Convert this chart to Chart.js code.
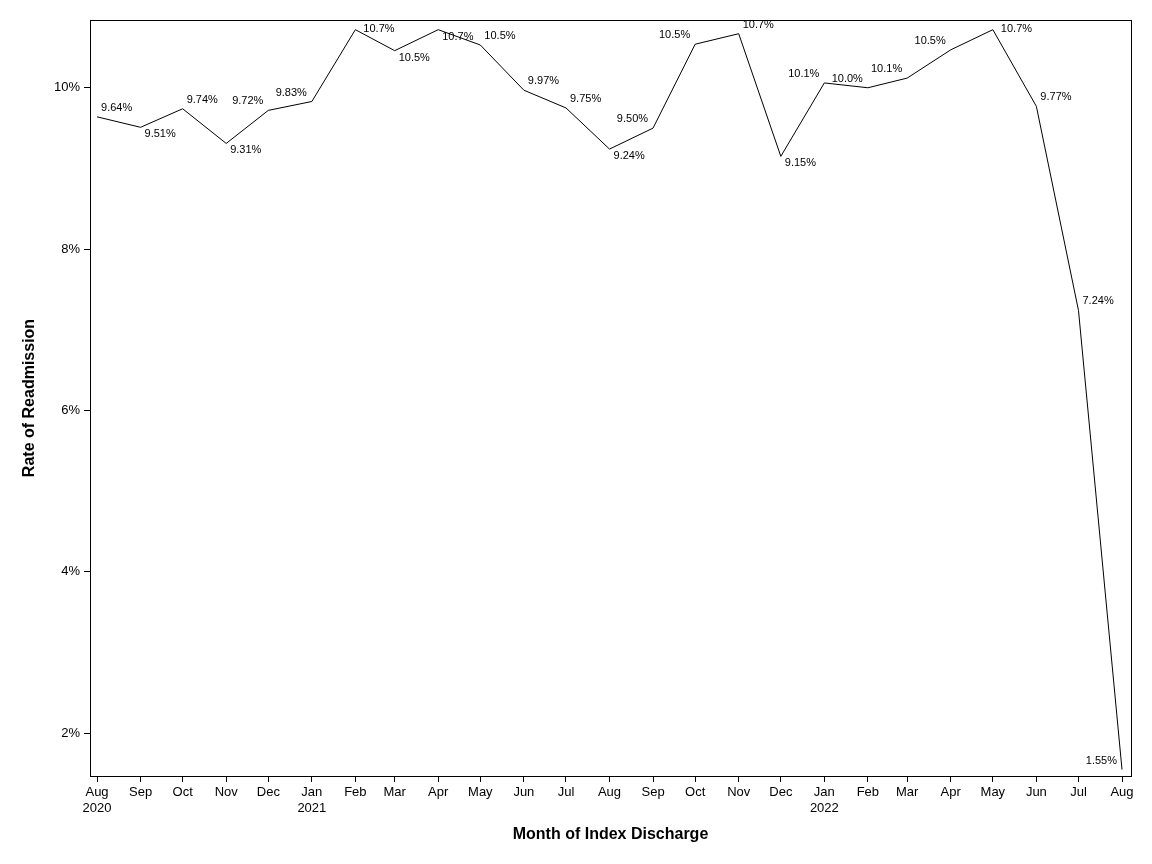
<!DOCTYPE html>
<html>
<head>
<meta charset="utf-8">
<script src="https://cdn.jsdelivr.net/npm/chart.js@4/dist/chart.umd.min.js"></script>
<style>
  html, body { margin: 0; padding: 0; background: #fff; }
  #wrap { width: 1152px; height: 864px; position: relative; }
</style>
</head>
<body>
<div id="wrap"><canvas id="readmitChart"></canvas></div>
<script>
// month of index discharge
const periods = ['2020-08','2020-09','2020-10','2020-11','2020-12','2021-01','2021-02','2021-03',
  '2021-04','2021-05','2021-06','2021-07','2021-08','2021-09','2021-10','2021-11','2021-12',
  '2022-01','2022-02','2022-03','2022-04','2022-05','2022-06','2022-07','2022-08'];
const monthNames = ['Jan','Feb','Mar','Apr','May','Jun','Jul','Aug','Sep','Oct','Nov','Dec'];
// rate of readmission, %
const rates = [9.64, 9.51, 9.74, 9.31, 9.72, 9.83, 10.72, 10.46, 10.72, 10.53, 9.97, 9.75, 9.24,
  9.50, 10.54, 10.67, 9.15, 10.06, 10.00, 10.12, 10.47, 10.72, 9.77, 7.24, 1.55];
const yTicks = [2, 4, 6, 8, 10];

// where each value label sits relative to its point
const labelSpots = ['ar','br','ar','br','al','al','r','br','br','ar','ar','ar','br',
  'al','al','ar','br','al','al','al','al','r','ar','ar','al'];

const DAY = 86400000;
const base = Date.UTC(2020, 7, 1);
const dayOf = p => {
  const [y, m] = p.split('-').map(Number);
  return (Date.UTC(y, m - 1, 1) - base) / DAY;
};
const xDays = periods.map(dayOf);
const points = xDays.map((d, i) => ({ x: d, y: rates[i] }));

function tickLabel(day) {
  const i = xDays.indexOf(day);
  if (i < 0) return '';
  const [y, m] = periods[i].split('-').map(Number);
  const name = monthNames[m - 1];
  return (i === 0 || m === 1) ? [name, String(y)] : name;
}

const frameAndLabels = {
  id: 'frameAndLabels',
  afterDatasetsDraw(chart) {
    const ctx = chart.ctx;
    const meta = chart.getDatasetMeta(0);
    ctx.save();
    ctx.font = '11px "Liberation Sans", Arial, sans-serif';
    ctx.fillStyle = '#000';
    ctx.textBaseline = 'middle';
    meta.data.forEach((pt, i) => {
      const txt = rates[i].toPrecision(3) + '%';
      const spot = labelSpots[i];
      let x = pt.x, y = pt.y;
      if (spot === 'ar') { ctx.textAlign = 'left'; x += 4; y -= 9; }
      else if (spot === 'br') { ctx.textAlign = 'left'; x += 4; y += 7; }
      else if (spot === 'al') { ctx.textAlign = 'right'; x -= 5; y -= 9; }
      else { ctx.textAlign = 'left'; x += 8; y -= 1; }
      ctx.fillText(txt, x, y);
    });
    const a = chart.chartArea;
    ctx.strokeStyle = '#000';
    ctx.lineWidth = 1;
    ctx.strokeRect(Math.round(a.left) + 0.5, Math.round(a.top) + 0.5,
      Math.round(a.right - a.left), Math.round(a.bottom - a.top));
    ctx.restore();
  }
};

new Chart(document.getElementById('readmitChart'), {
  type: 'line',
  data: {
    datasets: [{
      data: points,
      borderColor: '#000',
      borderWidth: 1,
      pointRadius: 0,
      tension: 0,
      fill: false
    }]
  },
  options: {
    responsive: true,
    maintainAspectRatio: false,
    animation: false,
    layout: { padding: { top: 20, right: 21, left: 0, bottom: 0 } },
    plugins: { legend: { display: false }, tooltip: { enabled: false } },
    scales: {
      x: {
        type: 'linear',
        min: -5,
        max: 736.4,
        afterBuildTicks: s => { s.ticks = xDays.map(v => ({ value: v })); },
        afterFit: s => { s.height = 88; },
        grid: { drawOnChartArea: false, drawTicks: true, tickLength: 6, color: '#000' },
        border: { display: true, color: '#000', width: 1 },
        ticks: {
          autoSkip: false,
          maxRotation: 0,
          padding: 3,
          color: '#000',
          font: { family: '"Liberation Sans", Arial, sans-serif', size: 13 },
          callback: v => tickLabel(v)
        },
        title: {
          display: true,
          text: 'Month of Index Discharge',
          color: '#000',
          font: { family: '"Liberation Sans", Arial, sans-serif', size: 16, weight: 'bold' },
          padding: { top: 0, bottom: 20 }
        }
      },
      y: {
        min: 1.47,
        max: 10.84,
        afterBuildTicks: s => { s.ticks = yTicks.map(v => ({ value: v })); },
        afterFit: s => { s.width = 90; },
        grid: { drawOnChartArea: false, drawTicks: true, tickLength: 6, color: '#000' },
        border: { display: true, color: '#000', width: 1 },
        ticks: {
          padding: 4,
          color: '#000',
          font: { family: '"Liberation Sans", Arial, sans-serif', size: 13 },
          callback: v => v + '%'
        },
        title: {
          display: true,
          text: 'Rate of Readmission',
          color: '#000',
          font: { family: '"Liberation Sans", Arial, sans-serif', size: 16, weight: 'bold' },
          padding: { top: 20, bottom: 0 }
        }
      }
    }
  },
  plugins: [frameAndLabels]
});
</script>
</body>
</html>
